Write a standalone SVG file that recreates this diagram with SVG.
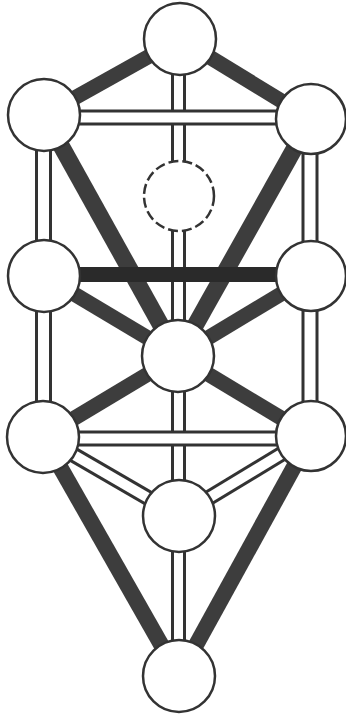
<svg xmlns="http://www.w3.org/2000/svg" width="346" height="715" viewBox="0 0 346 715">
<style>
.dout{stroke:#333;stroke-width:16;stroke-linecap:butt;fill:none}
.din{stroke:#fff;stroke-width:10;stroke-linecap:butt;fill:none}
.thick{stroke:#3d3d3d;stroke-width:15;stroke-linecap:butt;fill:none}
.dark{stroke:#2a2a2a;stroke-width:15;fill:none}
.node{fill:#fff;stroke:#333;stroke-width:2.5}
.daath{fill:#fff;stroke:#333;stroke-width:2.5;stroke-dasharray:10 4}
</style>
<rect width="346" height="715" fill="#fff"/>
<g id="connectors">
  <!-- double paths -->
  <line class="dout" x1="178.5" y1="39" x2="178.5" y2="676" style="stroke-width:15"/>
  <line class="din" x1="178.5" y1="39" x2="178.5" y2="676" style="stroke-width:9"/>
  <line class="dout" x1="43.5" y1="115" x2="43.5" y2="437" style="stroke-width:17"/>
  <line class="din" x1="43.5" y1="115" x2="43.5" y2="437" style="stroke-width:11"/>
  <line class="dout" x1="310" y1="119" x2="310" y2="436" style="stroke-width:17"/>
  <line class="din" x1="310" y1="119" x2="310" y2="436" style="stroke-width:11"/>
  <line class="dout" x1="43" y1="437" x2="179" y2="516"/>
  <line class="din" x1="43" y1="437" x2="179" y2="516"/>
  <line class="dout" x1="311" y1="436" x2="179" y2="516"/>
  <line class="din" x1="311" y1="436" x2="179" y2="516"/>
  <line class="dout" x1="44" y1="117.5" x2="311" y2="117.5"/>
  <line class="din" x1="44" y1="117.5" x2="311" y2="117.5"/>
  <line class="dout" x1="43" y1="438.5" x2="311" y2="438.5"/>
  <line class="din" x1="43" y1="438.5" x2="311" y2="438.5"/>
  <!-- thick paths -->
  <line class="thick" x1="180" y1="39" x2="44" y2="115"/>
  <line class="thick" x1="180" y1="39" x2="311" y2="119"/>
  <line class="thick" x1="44" y1="115" x2="178" y2="356" style="stroke-width:17"/>
  <line class="thick" x1="311" y1="119" x2="178" y2="356" style="stroke-width:17"/>
  <line class="dark" x1="44" y1="274.5" x2="311" y2="274.5"/>
  <line class="thick" x1="44" y1="276" x2="178" y2="356"/>
  <line class="thick" x1="311" y1="276" x2="178" y2="356"/>
  <line class="thick" x1="178" y1="356" x2="43" y2="437"/>
  <line class="thick" x1="178" y1="356" x2="311" y2="436"/>
  <line class="thick" x1="43" y1="437" x2="179" y2="676" style="stroke-width:16"/>
  <line class="thick" x1="311" y1="436" x2="179" y2="676" style="stroke-width:16"/>
</g>
<g id="kether"><circle class="node" cx="180" cy="39" r="36"/></g>
<g id="binah"><circle class="node" cx="44" cy="115" r="36"/></g>
<g id="chokmah"><circle class="node" cx="311" cy="119" r="35"/></g>
<g id="daath"><circle class="daath" cx="179" cy="196" r="35"/></g>
<g id="geburah"><circle class="node" cx="44" cy="276" r="36"/></g>
<g id="chesed"><circle class="node" cx="311" cy="276" r="35"/></g>
<g id="tiphareth"><circle class="node" cx="178" cy="356" r="36"/></g>
<g id="hod"><circle class="node" cx="43" cy="437" r="36"/></g>
<g id="netzach"><circle class="node" cx="311" cy="436" r="35"/></g>
<g id="yesod"><circle class="node" cx="179" cy="516" r="36"/></g>
<g id="malkuth"><circle class="node" cx="179" cy="676" r="36"/></g>
</svg>
